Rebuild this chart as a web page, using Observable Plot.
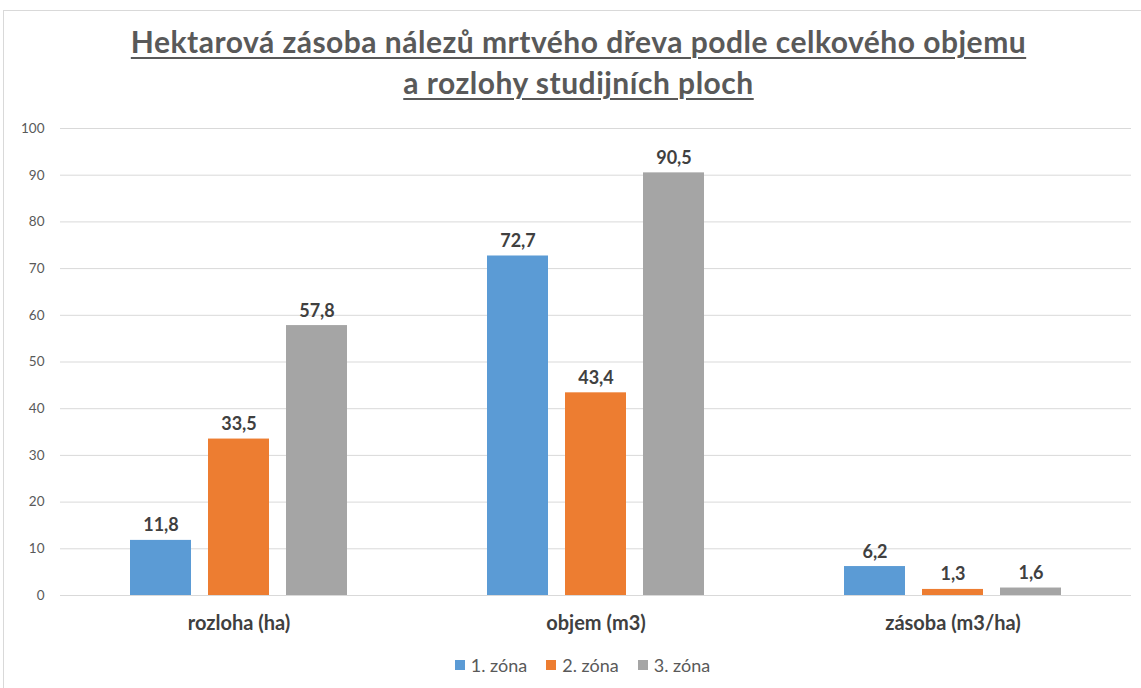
<!DOCTYPE html>
<html>
<head>
<meta charset="utf-8">
<script src="https://cdn.jsdelivr.net/npm/d3@7"></script>
<script src="https://cdn.jsdelivr.net/npm/@observablehq/plot@0.6"></script>
<style>
  html, body { margin: 0; padding: 0; background: #fff; }
  body { width: 1141px; height: 688px; overflow: hidden; position: relative; font-family: Lato, "Open Sans", sans-serif; }
  #frame { position: absolute; left: 3px; top: 10px; width: 1200px; height: 720px; border: 1px solid #d9d9d9; pointer-events: none; }
  #title { height: 118px; box-sizing: border-box; padding-top: 21px; padding-left: 16px; text-align: center; color: #595959; font-weight: bold; font-size: 30px; letter-spacing: 0.5px; line-height: 41px; }
  #title span { text-decoration: underline; text-decoration-thickness: 2px; text-underline-offset: 4px; }
  #legend { display: flex; justify-content: center; align-items: center; gap: 19px; margin-top: 4px; padding-left: 24px; font-size: 18px; color: #595959; }
  #legend .item { display: flex; align-items: center; }
  #legend .sw { width: 10px; height: 10px; margin-right: 6px; display: inline-block; }
</style>
</head>
<body>
<div id="frame"></div>
<div id="title"><span>Hektarová zásoba nálezů mrtvého dřeva podle celkového objemu</span><br><span>a rozlohy studijních ploch</span></div>
<div id="chart"></div>
<div id="legend"></div>
<script>
const categories = ["rozloha (ha)", "objem (m3)", "zásoba (m3/ha)"];
const zones = ["1. zóna", "2. zóna", "3. zóna"];
const zone1 = [11.8, 72.7, 6.2];
const zone2 = [33.5, 43.4, 1.3];
const zone3 = [57.8, 90.5, 1.6];
const yTicks = [0, 10, 20, 30, 40, 50, 60, 70, 80, 90, 100];
const colors = ["#5B9BD5", "#ED7D31", "#A5A5A5"];

const series = [zone1, zone2, zone3];
const data = [];
categories.forEach((c, i) => {
  zones.forEach((z, j) => data.push({cat: c, zone: z, value: series[j][i]}));
});
const fmt = v => v.toFixed(1).replace(".", ",");

const chart = Plot.plot({
  width: 1141,
  height: 532,
  marginLeft: 59,
  marginRight: 9,
  marginTop: 10,
  marginBottom: 55,
  style: {fontFamily: "Lato, 'Open Sans', sans-serif", background: "transparent"},
  fx: {domain: categories, padding: 0, label: null},
  x: {domain: zones, axis: null, paddingInner: 0.215, paddingOuter: 0.867},
  y: {domain: [0, 100], label: null},
  color: {domain: zones, range: colors},
  marks: [
    Plot.gridY(yTicks, {stroke: "#d9d9d9", strokeOpacity: 1, strokeWidth: 1}),
    Plot.axisY(yTicks, {tickSize: 0, tickPadding: 16, fontSize: 13.5, color: "#595959", label: null}),
    Plot.axisFx({anchor: "bottom", tickSize: 0, tickPadding: 20, fontSize: 20, fontWeight: "bold", color: "#404040", label: null}),
    Plot.barY(data, {fx: "cat", x: "zone", y: "value", fill: "zone"}),
    Plot.text(data, {fx: "cat", x: "zone", y: "value", text: d => fmt(d.value), lineAnchor: "bottom", dy: -9, fontSize: 18, fontWeight: "bold", fill: "#404040"})
  ]
});
document.getElementById("chart").appendChild(chart);

const legend = document.getElementById("legend");
zones.forEach((z, i) => {
  const it = document.createElement("div");
  it.className = "item";
  it.innerHTML = `<span class="sw" style="background:${colors[i]}"></span><span>${z}</span>`;
  legend.appendChild(it);
});
</script>
</body>
</html>
